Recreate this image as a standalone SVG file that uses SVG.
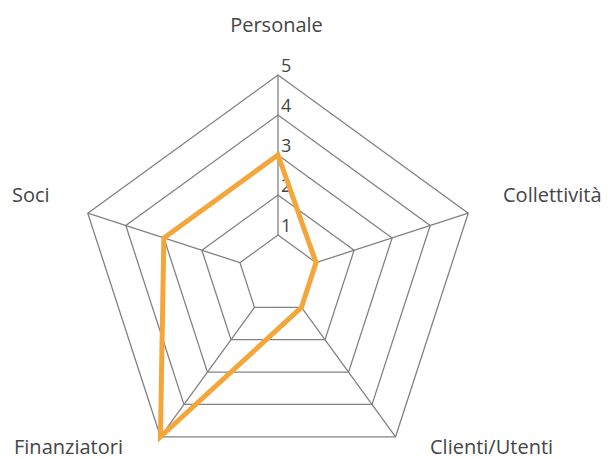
<svg xmlns="http://www.w3.org/2000/svg" width="608" height="459" viewBox="0 0 608 459">
<style>
.grid{fill:none;stroke:#828282;stroke-width:1.3}
.lbl{font-family:"Open Sans","Noto Sans",sans-serif;font-size:20px;fill:#454545}
.tick{font-family:"Open Sans","Noto Sans",sans-serif;font-size:18px;fill:#454545}
.data{fill:none;stroke:#F4A63A;stroke-width:5;stroke-linejoin:miter}
</style>
<rect width="608" height="459" fill="#FFFFFF"/>
<g id="grid">
<polygon class="grid" points="278,235 316.04,262.64 301.51,307.36 254.49,307.36 239.96,262.64"/>
<polygon class="grid" points="278,195 354.09,250.28 325.02,339.72 230.98,339.72 201.91,250.28"/>
<polygon class="grid" points="278,155 392.13,237.92 348.54,372.08 207.46,372.08 163.87,237.92"/>
<polygon class="grid" points="278,115 430.18,225.56 372.05,404.44 183.95,404.44 125.82,225.56"/>
<polygon class="grid" points="278,75 468.22,213.2 395.56,436.8 160.44,436.8 87.78,213.2"/>
</g>
<g id="connectors">
<line class="grid" x1="278" y1="235" x2="278" y2="75"/>
<line class="grid" x1="316.04" y1="262.64" x2="468.22" y2="213.2"/>
<line class="grid" x1="301.51" y1="307.36" x2="395.56" y2="436.8"/>
<line class="grid" x1="254.49" y1="307.36" x2="160.44" y2="436.8"/>
<line class="grid" x1="239.96" y1="262.64" x2="87.78" y2="213.2"/>
</g>
<g id="ticks">
<text class="tick" x="281" y="231.7">1</text>
<text class="tick" x="281" y="191.7">2</text>
<text class="tick" x="281" y="151.7">3</text>
<text class="tick" x="281" y="111.7">4</text>
<text class="tick" x="281" y="71.7">5</text>
</g>
<g id="series">
<polygon class="data" points="278,155 316.04,262.64 301.51,307.36 160.44,436.8 163.87,237.92"/>
</g>
<g id="node-personale"><text class="lbl" x="276.5" y="31.5" text-anchor="middle">Personale</text></g>
<g id="node-collettivita"><text class="lbl" x="503" y="201.7">Collettività</text></g>
<g id="node-clienti"><text class="lbl" x="430" y="454">Clienti/Utenti</text></g>
<g id="node-finanziatori"><text class="lbl" x="14" y="454">Finanziatori</text></g>
<g id="node-soci"><text class="lbl" x="12" y="201.7">Soci</text></g>
</svg>
